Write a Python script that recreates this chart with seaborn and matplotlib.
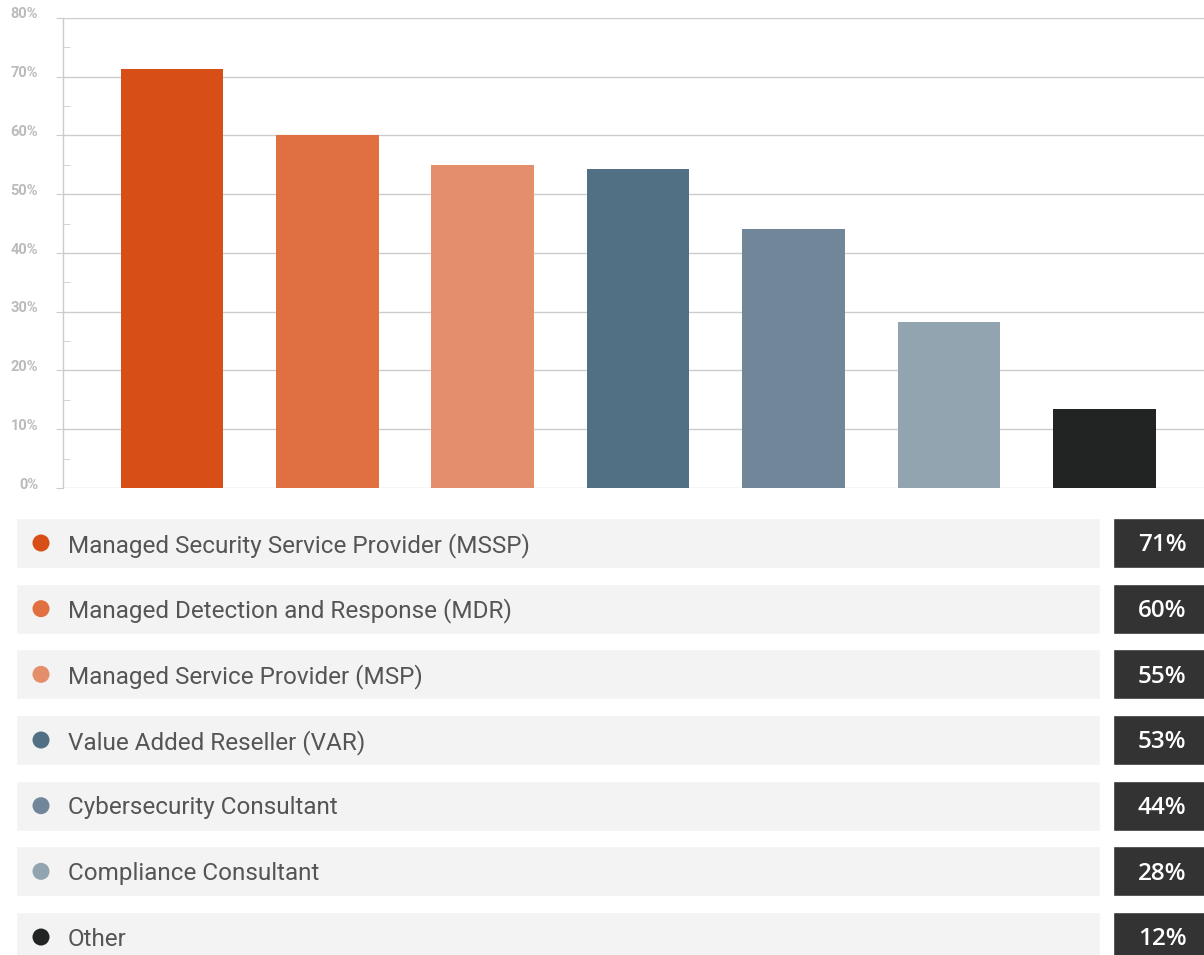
import matplotlib.pyplot as plt
import seaborn as sns
import pandas as pd
import numpy as np
from matplotlib.ticker import MultipleLocator, FuncFormatter
from matplotlib.transforms import ScaledTranslation

# data
categories = [
    'Managed Security Service Provider (MSSP)',
    'Managed Detection and Response (MDR)',
    'Managed Service Provider (MSP)',
    'Value Added Reseller (VAR)',
    'Cybersecurity Consultant',
    'Compliance Consultant',
    'Other',
]
bar_values = [71.3, 60.1, 55.0, 54.3, 44.1, 28.3, 13.4]
value_labels = ['71%', '60%', '55%', '53%', '44%', '28%', '12%']
colors = ['#D84E17', '#E07042', '#E58E6B', '#517084', '#718799', '#91A4AF', '#222423']

sns.set_style('white')
plt.rcParams['font.family'] = ['Roboto', 'DejaVu Sans']

W, H = 1204, 955
fig = plt.figure(figsize=(W / 100, H / 100), dpi=100)

# bar chart
ax = fig.add_axes([63 / W, (H - 488) / H, (W - 63) / W, 470 / H])
df = pd.DataFrame({'category': categories, 'value': bar_values})
sns.barplot(data=df, x='category', y='value', hue='category', palette=colors,
            legend=False, width=0.66, saturation=1, linewidth=0, ax=ax, zorder=3)
ax.set_xlim(-0.70, 6.64)
ax.set_ylim(0, 80)
ax.yaxis.set_major_locator(MultipleLocator(10))
ax.yaxis.set_minor_locator(MultipleLocator(5))
ax.yaxis.set_major_formatter(FuncFormatter(lambda v, p: f'{v:.0f}%'))
ax.grid(True, axis='y', which='major', color='#cccccc', linewidth=1, zorder=0)
ax.grid(False, axis='x')
ax.set_xticks([])
ax.set_xlabel('')
ax.set_ylabel('')
for s in ['top', 'right', 'bottom']:
    ax.spines[s].set_visible(False)
ax.spines['left'].set_color('#cccccc')
ax.spines['left'].set_linewidth(1)
ax.tick_params(axis='y', which='major', left=True, length=5, direction='out',
               color='#cccccc', pad=13, labelsize=10.5, labelcolor='#bbbbbb')
ax.tick_params(axis='y', which='minor', left=True, length=5, direction='in',
               color='#cccccc')
for lab in ax.get_yticklabels():
    lab.set_fontweight('bold')
    lab.set_transform(lab.get_transform() + ScaledTranslation(0, 5 / 100, fig.dpi_scale_trans))

# legend panel
lg = fig.add_axes([0, 0, 1, 445 / H])
n = len(categories)
idx = np.arange(n)
pitch = 65.67
lg.set_xlim(0, W)
lg.set_ylim((955 - 543) / pitch, (510 - 543) / pitch)
lg.axis('off')
lg.barh(idx, 1100 - 16, left=16, height=50 / pitch, color='#f3f3f3')
lg.barh(idx, 120, left=1113, height=50 / pitch, color='#333333')
lg.scatter(np.full(n, 41), idx, s=150, c=colors, linewidths=0, zorder=3)
for i in idx:
    lg.text(68, i + 0.035, categories[i], va='center', ha='left', fontsize=17.5,
            color='#555555')
    lg.text(1162, i + 0.035, value_labels[i], va='center', ha='center', fontsize=17.5,
            color='white', fontweight='semibold', family=['Open Sans', 'DejaVu Sans'])

fig.savefig('out.png', dpi=100)
